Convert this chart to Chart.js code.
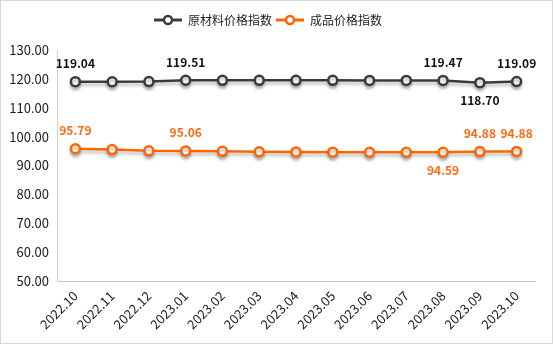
<!DOCTYPE html>
<html><head><meta charset="utf-8">
<script src="https://cdn.jsdelivr.net/npm/chart.js@4"></script>
<style>
html,body{margin:0;padding:0;background:#fff;}
#wrap{width:553px;height:344px;box-sizing:border-box;border:1px solid #d9d9d9;position:relative;}
canvas{display:block;}
</style></head>
<body><div id="wrap"><canvas id="c" width="551" height="342"></canvas></div>
<script>
const categories = ['2022.10','2022.11','2022.12','2023.01','2023.02','2023.03','2023.04','2023.05','2023.06','2023.07','2023.08','2023.09','2023.10'];
const rawMaterial = [119.04, 119.00, 119.05, 119.51, 119.50, 119.50, 119.50, 119.50, 119.48, 119.47, 119.47, 118.70, 119.09];
const product = [95.79, 95.50, 95.08, 95.06, 94.90, 94.72, 94.70, 94.62, 94.60, 94.60, 94.59, 94.88, 94.88];
// indices that show value labels, and their placement
const rawLabels = {0:'top',3:'top',10:'top',11:'bottom',12:'top'};
const productLabels = {0:'top',3:'top',10:'bottom',11:'top',12:'top'};
const seriesNames = ['原材料价格指数','成品价格指数'];
const yTicks = [50,60,70,80,90,100,110,120,130];

const DARK = '#3a3a3a', ORANGE = '#ff6600';
const FONT = '"Noto Sans CJK SC","Noto Sans",sans-serif';

function legendIcon(color){
  const cv = document.createElement('canvas'); cv.width = 28; cv.height = 12;
  const g = cv.getContext('2d');
  g.strokeStyle = color; g.lineWidth = 3;
  g.beginPath(); g.moveTo(0,6); g.lineTo(28,6); g.stroke();
  g.fillStyle = '#fff'; g.lineWidth = 2.5;
  g.beginPath(); g.arc(14,6,4,0,Math.PI*2); g.fill(); g.stroke();
  return cv;
}
const icons = [legendIcon(DARK), legendIcon(ORANGE)];

const shadowPlugin = {
  id:'shadow',
  beforeDatasetDraw(chart){ const c=chart.ctx; c.save(); c.shadowColor='rgba(0,0,0,0.25)'; c.shadowBlur=3; c.shadowOffsetY=3; },
  afterDatasetDraw(chart){ chart.ctx.restore(); }
};
const labelPlugin = {
  id:'vlabels',
  afterDatasetsDraw(chart){
    const c = chart.ctx;
    const cfgs = [rawLabels, productLabels];
    const colors = ['#111', '#ff6a10'];
    chart.data.datasets.forEach((ds,di)=>{
      const meta = chart.getDatasetMeta(di);
      c.save();
      c.font = 'bold 12px ' + FONT;
      c.fillStyle = colors[di];
      c.textAlign = 'center';
      c.textBaseline = 'middle';
      Object.keys(cfgs[di]).forEach(k=>{
        const i = +k; const p = meta.data[i];
        const y = cfgs[di][k]==='top' ? p.y - 18 : p.y + 18;
        c.fillText(ds.data[i].toFixed(2), p.x, y);
      });
      c.restore();
    });
  }
};

new Chart(document.getElementById('c'), {
  type:'line',
  data:{
    labels: categories,
    datasets:[
      {label:seriesNames[0], data:rawMaterial, borderColor:DARK, backgroundColor:'#fff', borderWidth:2.5,
       pointRadius:4.5, pointBorderWidth:2.5, pointBackgroundColor:'#fff', pointBorderColor:DARK, pointStyle:'circle', tension:0},
      {label:seriesNames[1], data:product, borderColor:ORANGE, backgroundColor:'#fff', borderWidth:2.5,
       pointRadius:4.5, pointBorderWidth:2.5, pointBackgroundColor:'#fff', pointBorderColor:ORANGE, pointStyle:'circle', tension:0}
    ]
  },
  options:{
    responsive:false, animation:false,
    layout:{padding:{top:9,right:17,left:0,bottom:0}},
    plugins:{
      tooltip:{enabled:false},
      title:{display:true, text:' ', position:'top', weight:500, font:{size:4,lineHeight:1}, padding:{top:5,bottom:5}},
      legend:{
        position:'top', align:'center',
        labels:{
          usePointStyle:true, pointStyleWidth:28, padding:4,
          font:{size:12, family:FONT}, color:'#222',
          generateLabels(chart){
            return chart.data.datasets.map((ds,i)=>({text:ds.label, pointStyle:icons[i], fillStyle:'#fff', strokeStyle:ds.borderColor, lineWidth:0, datasetIndex:i, fontColor:'#222'}));
          }
        }
      }
    },
    scales:{
      x:{
        offset:true,
        afterFit(s){ s.height = 62; },
        grid:{display:false, drawTicks:false},
        border:{display:true,color:'#c8c8c8'},
        ticks:{maxRotation:45,minRotation:45,color:'#1a1a1a',font:{size:13,family:FONT},padding:7, autoSkip:false}
      },
      y:{
        min:50,max:130,
        afterBuildTicks(s){ s.ticks = yTicks.map(v=>({value:v})); },
        afterFit(s){ s.width = 56; },
        grid:{display:false, drawTicks:false},
        border:{display:true,color:'#d0d0d0'},
        ticks:{color:'#1a1a1a',font:{size:13,family:FONT},padding:8,callback:v=>Number(v).toFixed(2)}
      }
    }
  },
  plugins:[shadowPlugin,labelPlugin]
});
</script></body></html>
